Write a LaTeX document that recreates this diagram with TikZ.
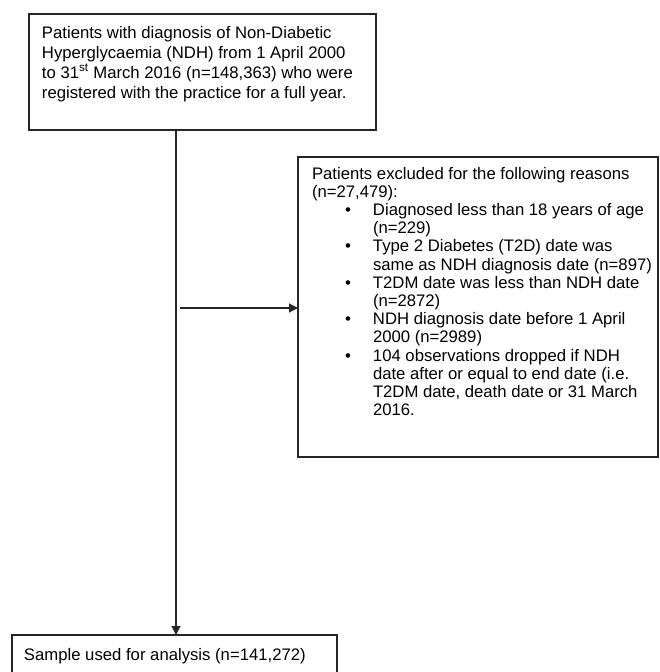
\documentclass[tikz,border=0pt]{standalone}
\usepackage{fontspec}
\setmainfont{Liberation Sans}
\usetikzlibrary{arrows.meta}
\newcommand\myitem[1]{\par\hangindent=61pt\hangafter=1\noindent\hspace*{33pt}\makebox[28pt][l]{•}#1\par}
\tikzset{
  boxnode/.style={draw=black!85, line width=1.1pt, inner sep=0pt, outer sep=0pt, anchor=north west},
  arr/.style={draw=black!85, line width=1.1pt, -{Triangle[length=9pt,width=9pt]}}
}
\begin{document}
\begin{tikzpicture}
\useasboundingbox (0,0) rectangle (659pt,-672pt);
\clip (0,0) rectangle (659pt,-672pt);
\fill[white] (0,0) rectangle (659pt,-672pt);
\node[boxnode] (top) at (29pt,-14pt) {\parbox[c][116pt][t]{347pt}{\fontsize{16.7}{20}\selectfont\raggedright\leftskip=13pt\parindent=0pt
\vspace*{12pt}
Patients with diagnosis of Non-Diabetic\newline
Hyperglycaemia (NDH) from 1 April 2000\newline
to 31\textsuperscript{st} March 2016 (n=148,363) who were\newline
registered with the practice for a full year.\par}};
\node[boxnode] (exc) at (298pt,-157pt) {\parbox[c][300pt][t]{360pt}{\fontsize{16.7}{18.2}\selectfont\raggedright\leftskip=14pt\parindent=0pt
\vspace*{10pt}
Patients excluded for the following reasons\newline
(n=27,479):\par
\myitem{Diagnosed less than 18 years of age\newline (n=229)}
\myitem{Type 2 Diabetes (T2D) date was\newline same as NDH diagnosis date (n=897)}
\myitem{T2DM date was less than NDH date\newline (n=2872)}
\myitem{NDH diagnosis date before 1 April\newline 2000 (n=2989)}
\myitem{104 observations dropped if NDH\newline date after or equal to end date (i.e.\newline T2DM date, death date or 31 March\newline 2016.}
}};
\node[boxnode] (bot) at (12pt,-635pt) {\parbox[c][60pt][t]{325pt}{\fontsize{16.7}{20}\selectfont\raggedright\leftskip=12pt\parindent=0pt
\vspace*{13pt}
Sample used for analysis (n=141,272)\par}};
\coordinate (vx) at (176pt,0pt);
\coordinate (hs) at (180pt,-308pt);
\draw[arr] (top.south -| vx) -- (bot.north -| vx);
\draw[arr] (hs) -- (hs -| exc.west);
\end{tikzpicture}
\end{document}
